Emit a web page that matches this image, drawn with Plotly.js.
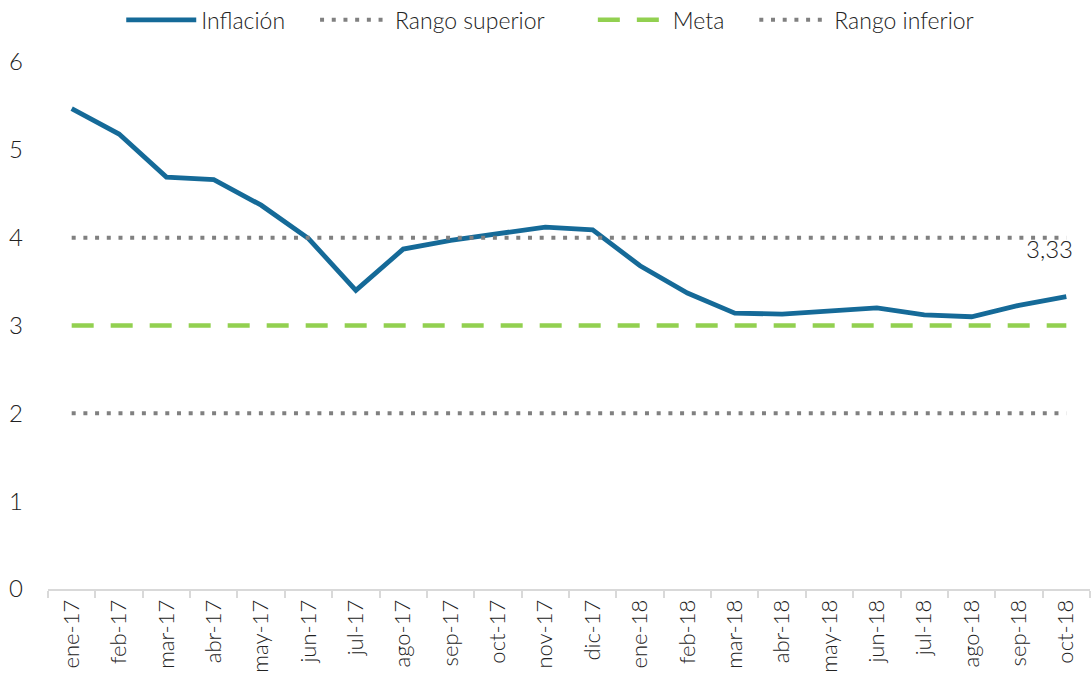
<!DOCTYPE html>
<html>
<head>
<meta charset="utf-8">
<script src="https://cdn.plot.ly/plotly-3.0.1.min.js"></script>
<style>html,body{margin:0;padding:0;background:#fff;}#chart{width:1091px;height:682px;}</style>
</head>
<body>
<div id="chart"></div>
<script>
const months = ["ene-17","feb-17","mar-17","abr-17","may-17","jun-17","jul-17","ago-17","sep-17","oct-17","nov-17","dic-17",
                "ene-18","feb-18","mar-18","abr-18","may-18","jun-18","jul-18","ago-18","sep-18","oct-18"];
const inflacion = [5.47,5.18,4.69,4.66,4.37,3.99,3.40,3.87,3.97,4.05,4.12,4.09,3.68,3.37,3.14,3.13,3.16,3.20,3.12,3.10,3.23,3.33];
const rangoSuperior = months.map(() => 4);
const meta = months.map(() => 3);
const rangoInferior = months.map(() => 2);
const seriesNames = ["Inflación", "Rango superior", "Meta", "Rango inferior"];

const last = inflacion.length - 1;
const pad = "\u00a0\u00a0\u00a0\u00a0";
const padWide = "\u00a0\u00a0\u00a0\u00a0\u00a0\u00a0\u00a0";
const font = "Lato, 'Open Sans', sans-serif";

const traces = [
  {x: months, y: inflacion, name: seriesNames[0] + pad, mode: "lines",
   line: {color: "#156A98", width: 4.8}},
  {x: months, y: rangoSuperior, name: seriesNames[1] + padWide, mode: "lines",
   line: {color: "#808080", width: 4, dash: "4px,7.7px"}},
  {x: months, y: meta, name: seriesNames[2] + pad, mode: "lines",
   line: {color: "#92D050", width: 4.5, dash: "22px,17px"}},
  {x: months, y: rangoInferior, name: seriesNames[3], mode: "lines",
   line: {color: "#808080", width: 4, dash: "4px,7.7px"}}
];

const layout = {
  width: 1091, height: 682,
  margin: {l: 48, r: 1, t: 62, b: 93, autoexpand: false},
  paper_bgcolor: "#fff", plot_bgcolor: "#fff",
  font: {family: font, size: 21, color: "#222", weight: 300},
  showlegend: true,
  legend: {orientation: "h", x: 0.482, xanchor: "center", y: 1.08, yanchor: "middle",
           itemwidth: 70, font: {family: font, size: 23, color: "#222", weight: 300},
           traceorder: "normal"},
  xaxis: {type: "category", tickangle: -90, showgrid: false, zeroline: false,
          showline: true, linecolor: "#d9d9d9", linewidth: 2,
          ticks: "outside", tickson: "boundaries", ticklen: 7, tickcolor: "#d9d9d9", tickwidth: 2,
          tickfont: {family: font, size: 22, color: "#222", weight: 300}, range: [-0.5, 21.5]},
  yaxis: {range: [0, 6], dtick: 1, showgrid: false, zeroline: false, showline: false,
          ticks: "", ticklabelstandoff: 24,
          tickfont: {family: font, size: 24, color: "#222", weight: 300}},
  annotations: [{x: months[last], y: inflacion[last], xref: "x", yref: "y",
                 text: inflacion[last].toFixed(2).replace('.', ','), showarrow: false,
                 xanchor: "right", yanchor: "middle", xshift: 9, yshift: 48,
                 font: {family: font, size: 24, color: "#222", weight: 300}}]
};

Plotly.newPlot("chart", traces, layout, {displayModeBar: false, staticPlot: true});
</script>
</body>
</html>
